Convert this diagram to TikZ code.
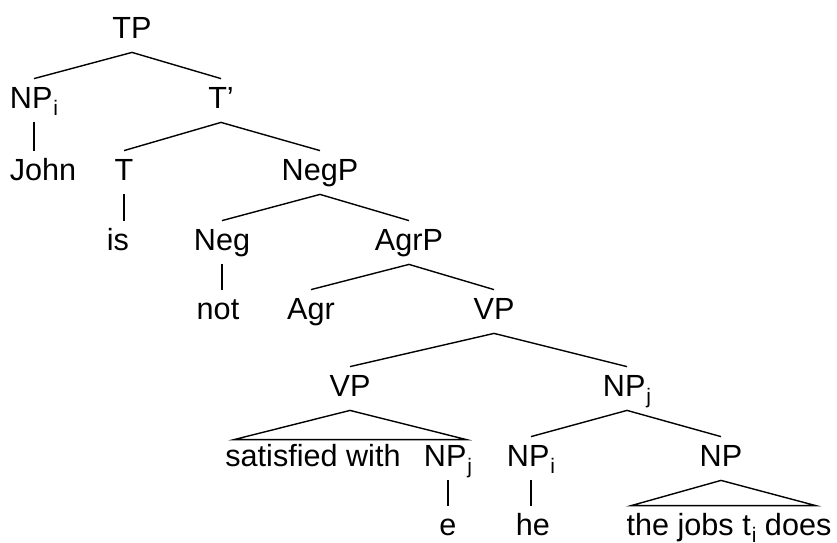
\documentclass[tikz,border=0pt]{standalone}
\usepackage{fontspec}
\setmainfont{Liberation Sans}
\usepackage{tikz}

\newcommand{\idx}[1]{\kern0.5pt\raisebox{-3.5pt}{\fontsize{10.5}{10}\selectfont #1}}

\begin{document}
\begin{tikzpicture}[
		x=0.5pt, y=-0.5pt,
		cat/.style={inner xsep=0pt, inner ysep=3.5pt, text height=11pt, text depth=3.5pt, anchor=base, font=\fontsize{15.3}{18}\selectfont},
		branch/.style={line width=0.7pt}
		]
		\useasboundingbox (0,0) rectangle (837,542);
		
		% Categories
		\node[cat] (tp) at (132,38) {TP};
		\node[cat] (npi) at (34,108) {NP\idx{i}};
		\node[cat] (tbar) at (221,108) {T'};
		\node[cat] (john) at (43,180) {John};
		\node[cat] (t) at (124,180) {T};
		\node[cat] (negp) at (320,180) {NegP};
		\node[cat] (is) at (118,250) {is};
		\node[cat] (neg) at (222,250) {Neg};
		\node[cat] (agrp) at (409,250) {AgrP};
		\node[cat] (not) at (218,319) {not};
		\node[cat] (agr) at (311,319) {Agr};
		\node[cat] (vp) at (494,319) {VP};
		\node[cat] (vpb) at (350,396) {VP};
		\node[cat] (npj) at (627,396) {NP\idx{j}};
		\node[cat] (sat) at (313,466) {satisfied with};
		\node[cat] (npe) at (448,466) {NP\idx{j}};
		\node[cat] (npii) at (531,466) {NP\idx{i}};
		\node[cat] (np) at (721,466) {NP};
		\node[cat] (e) at (448,535) {e};
		\node[cat] (he) at (533,535) {he};
		\node[cat] (jobs) at (729,535) {the jobs t\idx{i} does};
		
		% Branches
		\draw[branch] (tp.south) -- (npi.north);
		\draw[branch] (tp.south) -- (tbar.north);
		\draw[branch] (npi.south) -- (npi.south |- john.north);
		\draw[branch] (tbar.south) -- (t.north);
		\draw[branch] (tbar.south) -- (negp.north);
		\draw[branch] (t.south) -- (t.south |- is.north);
		\draw[branch] (negp.south) -- (neg.north);
		\draw[branch] (negp.south) -- (agrp.north);
		\draw[branch] (neg.south) -- (neg.south |- not.north);
		\draw[branch] (agrp.south) -- (agr.north);
		\draw[branch] (agrp.south) -- (vp.north);
		\draw[branch] (vp.south) -- (vpb.north);
		\draw[branch] (vp.south) -- (npj.north);
		\draw[branch] (vpb.south) -- ([xshift=4.5pt,yshift=-1.5pt]sat.north west) -- ([xshift=-3pt,yshift=-1.5pt]npe.north east) -- cycle;
		\draw[branch] (npe.south) -- (npe.south |- e.north);
		\draw[branch] (npj.south) -- (npii.north);
		\draw[branch] (npj.south) -- (np.north);
		\draw[branch] (npii.south) -- (npii.south |- he.north);
		\draw[branch] (np.south) -- ([xshift=2.5pt]jobs.north west) -- ([xshift=-8pt]jobs.north east) -- cycle;
		
	\end{tikzpicture}
\end{document}
